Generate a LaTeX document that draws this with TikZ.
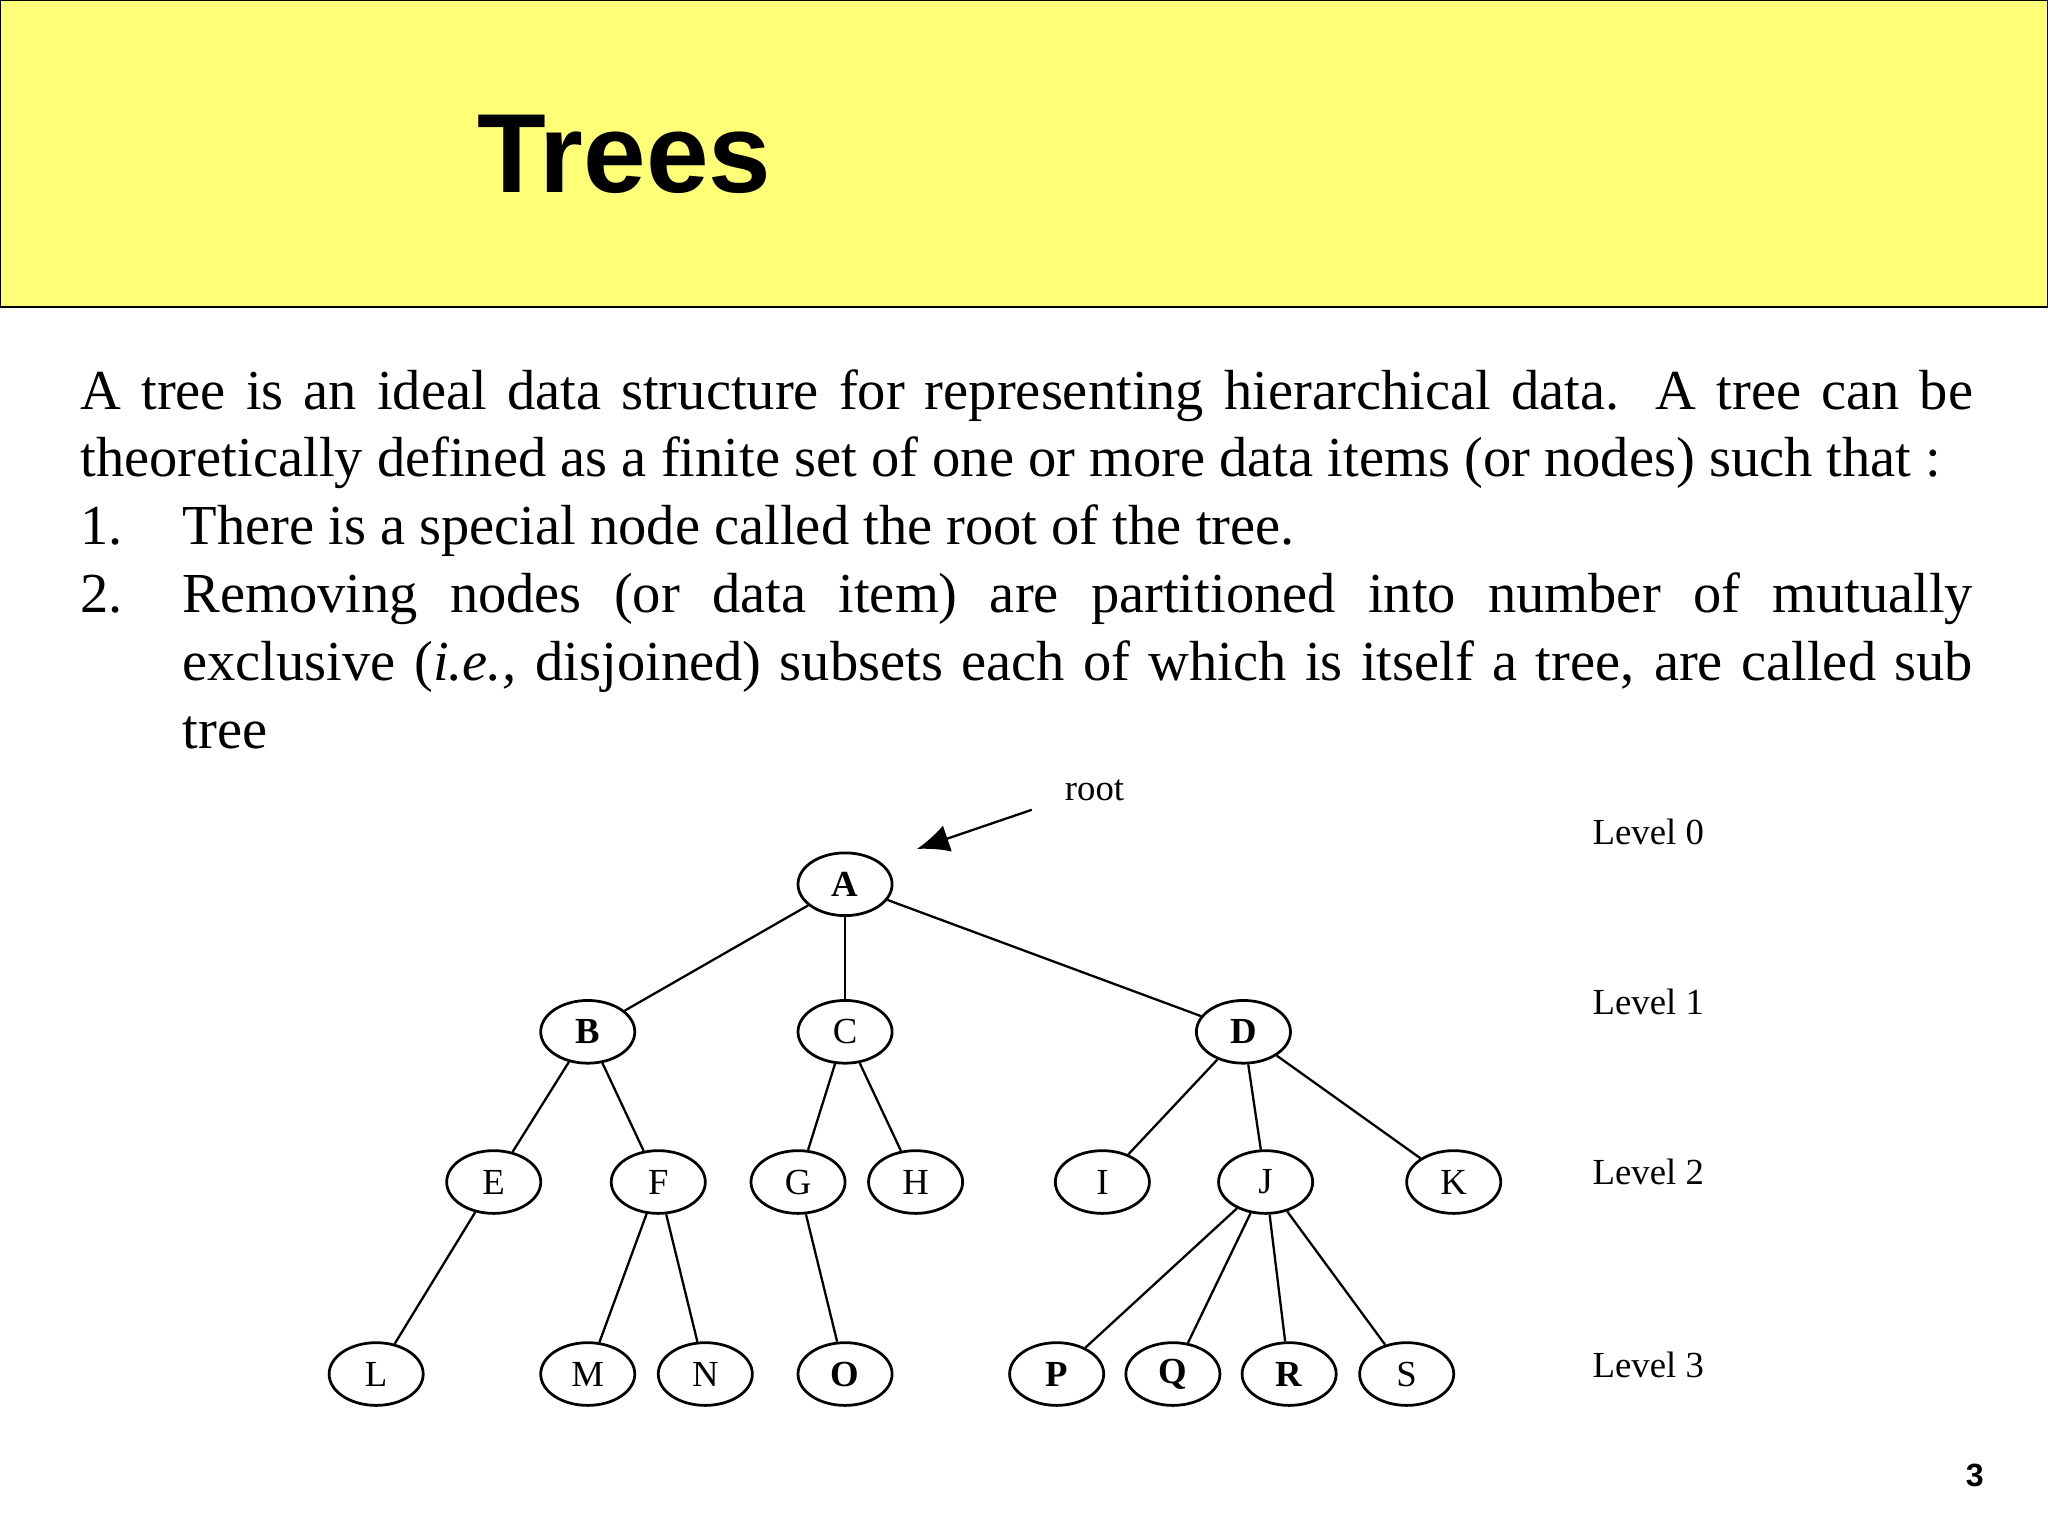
\documentclass[tikz,border=0pt]{standalone}
\usepackage{fontspec}
\setmainfont{Liberation Serif}
\newfontfamily\hd{Liberation Sans}
\usetikzlibrary{shapes.geometric,arrows.meta}
\begin{document}
\begin{tikzpicture}[x=0.01cm,y=-0.01cm,
  tn/.style={ellipse,draw,line width=0.6pt,minimum width=0.72cm,minimum height=0.48cm,inner sep=0pt,font=\fontsize{8}{9}\selectfont},
  bn/.style={tn,font=\fontsize{8}{9}\selectfont\bfseries},
  lvl/.style={font=\fontsize{8}{9}\selectfont,anchor=center},
  ed/.style={draw,line width=0.5pt}]
\useasboundingbox (0,0) rectangle (1568,1176);
\fill[white] (0,0) rectangle (1568,1176);
\draw[fill={rgb,255:red,255;green,255;blue,119},line width=0.6pt] (0,0) rectangle (1568,235);
\node[font=\hd\bfseries\fontsize{24.5}{26}\selectfont] (title) at (478,118) {Trees};
\node[anchor=north west,text width=412pt,inner sep=0pt,align=justify,font=\fontsize{12.3}{14.8}\selectfont] (body) at (61,282) {%
\hyphenpenalty=10000\exhyphenpenalty=10000
A tree is an ideal data structure for representing hierarchical data. A tree can be\linebreak theoretically defined as a finite set of one or more data items (or nodes) such that :\par
\leftskip=22.2pt\parindent=-22.2pt
\makebox[22.2pt][l]{1.}There is a special node called the root of the tree.\par
\makebox[22.2pt][l]{2.}Removing nodes (or data item) are partitioned into number of mutually\linebreak exclusive (\textit{i.e.,} disjoined) subsets each of which is itself a tree, are called sub\linebreak tree\par};
\node[bn] (A) at (647,677) {A};
\node[bn] (B) at (450,790) {B};
\node[tn] (C) at (647,790) {C};
\node[bn] (D) at (952,790) {D};
\node[tn] (E) at (378,905) {E};
\node[tn] (F) at (504,905) {F};
\node[tn] (G) at (611,905) {G};
\node[tn] (H) at (701,905) {H};
\node[tn] (I) at (844,905) {I};
\node[tn] (J) at (969,905) {J};
\node[tn] (K) at (1113,905) {K};
\node[tn] (L) at (288,1052) {L};
\node[tn] (M) at (450,1052) {M};
\node[tn] (N) at (540,1052) {N};
\node[bn] (O) at (647,1052) {O};
\node[bn] (P) at (809,1052) {P};
\node[bn] (Q) at (898,1052) {Q};
\node[bn] (R) at (987,1052) {R};
\node[tn] (S) at (1077,1052) {S};
\foreach \a/\b in {A/B,A/C,A/D,B/E,B/F,C/G,C/H,D/I,D/J,D/K,E/L,F/M,F/N,G/O,J/P,J/Q,J/R,J/S}
  \draw[ed] (\a) -- (\b);
\node[lvl] (rt) at (838,605) {root};
\coordinate (rs) at (790,620);
\coordinate (re) at (702,650);
\draw[ed,-{Latex[length=7pt,width=6pt]}] (rs) -- (re);
\node[lvl] (l0) at (1262,637) {Level 0};
\node[lvl] (l1) at (1262,767) {Level 1};
\node[lvl] (l2) at (1262,897) {Level 2};
\node[lvl] (l3) at (1262,1045) {Level 3};
\node[font=\hd\bfseries\fontsize{7}{8}\selectfont] (pg) at (1512,1130) {3};
\end{tikzpicture}
\end{document}
